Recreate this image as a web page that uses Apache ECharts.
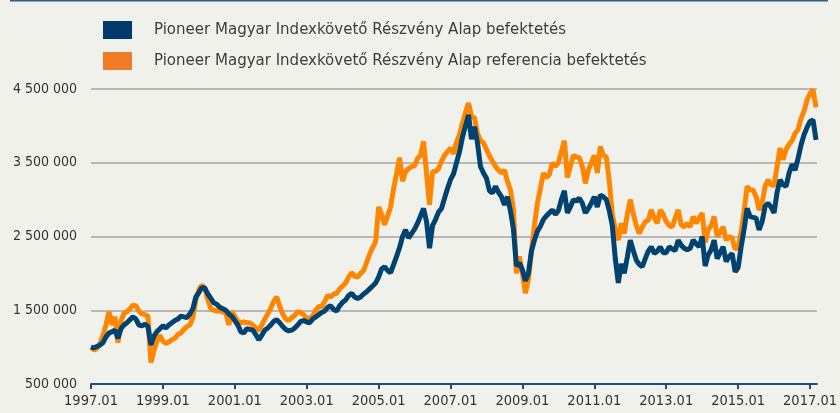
<!DOCTYPE html>
<html>
<head>
<meta charset="utf-8">
<script src="https://cdn.jsdelivr.net/npm/echarts@6/dist/echarts.min.js"></script>
<style>
	html, body { margin: 0; padding: 0; background: #f1f1ec; }
	#chart { width: 840px; height: 413px; }
</style>
</head>
<body>
<div id="chart"></div>
<script>
	// monthly values (thousand HUF), first value = 1997.01
	var firstYear = 1997;
	var seriesNames = [
		'Pioneer Magyar Indexkövető Részvény Alap befektetés',
		'Pioneer Magyar Indexkövető Részvény Alap referencia befektetés'
	];
	var tickYears = [1997, 1999, 2001, 2003, 2005, 2007, 2009, 2011, 2013, 2015, 2017];

	var fundValues = [
		1000, 990, 1010, 1030, 1060, 1140, 1190, 1210, 1230, 1120, 1250, 1300,		// 1997
		1330, 1370, 1410, 1380, 1300, 1290, 1310, 1280, 1030, 1150, 1210, 1250,		// 1998
		1290, 1260, 1300, 1330, 1360, 1380, 1420, 1410, 1400, 1450, 1520, 1680,		// 1999
		1740, 1810, 1800, 1720, 1660, 1600, 1580, 1540, 1520, 1500, 1450, 1420,		// 2000
		1360, 1300, 1210, 1190, 1250, 1240, 1230, 1170, 1100, 1160, 1230, 1260,		// 2001
		1300, 1350, 1370, 1330, 1280, 1240, 1220, 1230, 1260, 1300, 1350, 1360,		// 2002
		1340, 1330, 1380, 1410, 1440, 1470, 1490, 1540, 1560, 1510, 1490, 1560,		// 2003
		1610, 1640, 1700, 1730, 1680, 1660, 1680, 1720, 1750, 1790, 1830, 1870,		// 2004
		1950, 2060, 2090, 2040, 2010, 2120, 2230, 2350, 2500, 2590, 2480, 2540,		// 2005
		2600, 2680, 2780, 2880, 2700, 2340, 2650, 2730, 2830, 2880, 3020, 3150,		// 2006
		3270, 3350, 3500, 3650, 3850, 4000, 4150, 3820, 3990, 3770, 3450, 3360,		// 2007
		3290, 3120, 3090, 3180, 3100, 3040, 2930, 3040, 2850, 2600, 2100, 2140,		// 2008
		2050, 1900, 2000, 2300, 2450, 2570, 2640, 2730, 2780, 2820, 2860, 2800,		// 2009
		2850, 3000, 3120, 2820, 2900, 3000, 2980, 3020, 2950, 2820, 2880, 2950,		// 2010
		3040, 2900, 3060, 3040, 3000, 2850, 2650, 2200, 1870, 2130, 2000, 2220,		// 2011
		2450, 2310, 2180, 2120, 2090, 2200, 2300, 2360, 2270, 2300, 2360, 2280,		// 2012
		2280, 2360, 2330, 2310, 2450, 2380, 2340, 2320, 2340, 2450, 2400, 2360,		// 2013
		2500, 2100, 2250, 2320, 2450, 2200, 2280, 2360, 2160, 2230, 2270, 2020,		// 2014
		2080, 2360, 2600, 2880, 2770, 2760, 2750, 2590, 2700, 2910, 2950, 2900,		// 2015
		2820, 3100, 3270, 3200, 3180, 3360, 3480, 3400, 3560, 3740, 3880, 3980,		// 2016
		4060, 4080, 3810																// 2017
	];

	var referenceValues = [
		1000, 960, 980, 1050, 1160, 1300, 1480, 1300, 1410, 1060, 1350, 1460,		// 1997
		1480, 1520, 1570, 1560, 1490, 1450, 1440, 1420, 790, 950, 1080, 1160,		// 1998
		1080, 1050, 1070, 1100, 1120, 1170, 1190, 1240, 1280, 1300, 1400, 1640,		// 1999
		1780, 1840, 1800, 1640, 1520, 1500, 1490, 1490, 1480, 1460, 1300, 1480,		// 2000
		1420, 1350, 1330, 1340, 1330, 1330, 1300, 1260, 1230, 1300, 1380, 1450,		// 2001
		1530, 1620, 1680, 1550, 1450, 1380, 1360, 1400, 1430, 1480, 1470, 1440,		// 2002
		1380, 1390, 1420, 1500, 1550, 1550, 1620, 1700, 1680, 1720, 1730, 1790,		// 2003
		1830, 1870, 1950, 2010, 1960, 1950, 2000, 2040, 2150, 2260, 2350, 2430,		// 2004
		2900, 2800, 2660, 2780, 2900, 3150, 3350, 3570, 3250, 3380, 3420, 3450,		// 2005
		3460, 3560, 3600, 3790, 3350, 2930, 3380, 3380, 3420, 3520, 3600, 3650,		// 2006
		3700, 3620, 3780, 3880, 4040, 4180, 4310, 4130, 4110, 3900, 3800, 3770,		// 2007
		3680, 3590, 3520, 3450, 3400, 3360, 3400, 3250, 3130, 2870, 2000, 2230,		// 2008
		2000, 1730, 1920, 2300, 2650, 2950, 3150, 3360, 3300, 3340, 3500, 3450,		// 2009
		3500, 3650, 3800, 3300, 3450, 3600, 3580, 3570, 3450, 3220, 3400, 3500,		// 2010
		3600, 3360, 3720, 3600, 3580, 3250, 2800, 2600, 2450, 2680, 2540, 2800,		// 2011
		3000, 2810, 2650, 2540, 2630, 2700, 2720, 2860, 2750, 2680, 2860, 2800,		// 2012
		2700, 2650, 2630, 2750, 2860, 2660, 2630, 2680, 2630, 2770, 2680, 2750,		// 2013
		2820, 2420, 2590, 2650, 2770, 2500, 2560, 2630, 2450, 2500, 2480, 2330,		// 2014
		2350, 2560, 2850, 3180, 3130, 3130, 3040, 2860, 2950, 3180, 3270, 3200,		// 2015
		3190, 3450, 3700, 3540, 3680, 3750, 3800, 3900, 3950, 4100, 4200, 4350,		// 2016
		4440, 4490, 4250																// 2017
	];

	var fontName = "'DejaVu Sans Condensed', 'Liberation Sans', sans-serif";

	/** turns the monthly list into [decimal year, HUF] pairs */
	function toPoints(pValues) {
		return pValues.map(function (v, i) {
			return [firstYear + i / 12, v * 1000];
		});
	}

	function formatThousands(pValue) {
		return String(pValue).replace(/\B(?=(\d{3})+(?!\d))/g, ' ');
	}

	var chart = echarts.init(document.getElementById('chart'));
	chart.setOption({
		backgroundColor: '#f1f1ec',
		animation: false,
		graphic: [{
			type: 'line', shape: { x1: 10, y1: 0.5, x2: 828, y2: 0.5 },
			style: { stroke: '#2d5f8a', lineWidth: 2 }
		}],
		legend: {
			orient: 'vertical', left: 98, top: 16,
			itemWidth: 29, itemHeight: 18, itemGap: 13,
			icon: 'rect',
			data: seriesNames,
			textStyle: { fontFamily: fontName, fontSize: 16.7, color: '#3c3c3c', padding: [0, 0, 0, 17] }
		},
		grid: { left: 91, right: 12, top: 89, bottom: 29, containLabel: false },
		xAxis: {
			type: 'value', min: firstYear, max: 2017.19,
			splitLine: { show: false },
			axisLine: { lineStyle: { color: '#1f4e79', width: 2 } },
			axisTick: { customValues: tickYears, length: 5, lineStyle: { color: '#1f4e79', width: 2 } },
			axisLabel: {
				customValues: tickYears, margin: 10,
				fontFamily: fontName, fontSize: 14.5, color: '#333',
				formatter: function (v) { return v + '.01'; }
			}
		},
		yAxis: {
			type: 'value', min: 500000, max: 4500000, interval: 1000000,
			axisLine: { show: false }, axisTick: { show: false },
			splitLine: { lineStyle: { color: '#a5a5a5', width: 1.5 } },
			axisLabel: { margin: 14, fontFamily: fontName, fontSize: 14, color: '#333', formatter: formatThousands }
		},
		series: [{
			name: seriesNames[0], type: 'line', data: toPoints(fundValues),
			showSymbol: false, z: 3,
			itemStyle: { color: '#00396b' },
			lineStyle: { color: '#004370', width: 5 }
		}, {
			name: seriesNames[1], type: 'line', data: toPoints(referenceValues),
			showSymbol: false, z: 2,
			itemStyle: { color: '#ee7b25' },
			lineStyle: { color: '#ff8600', width: 5 }
		}]
	});
</script>
</body>
</html>
